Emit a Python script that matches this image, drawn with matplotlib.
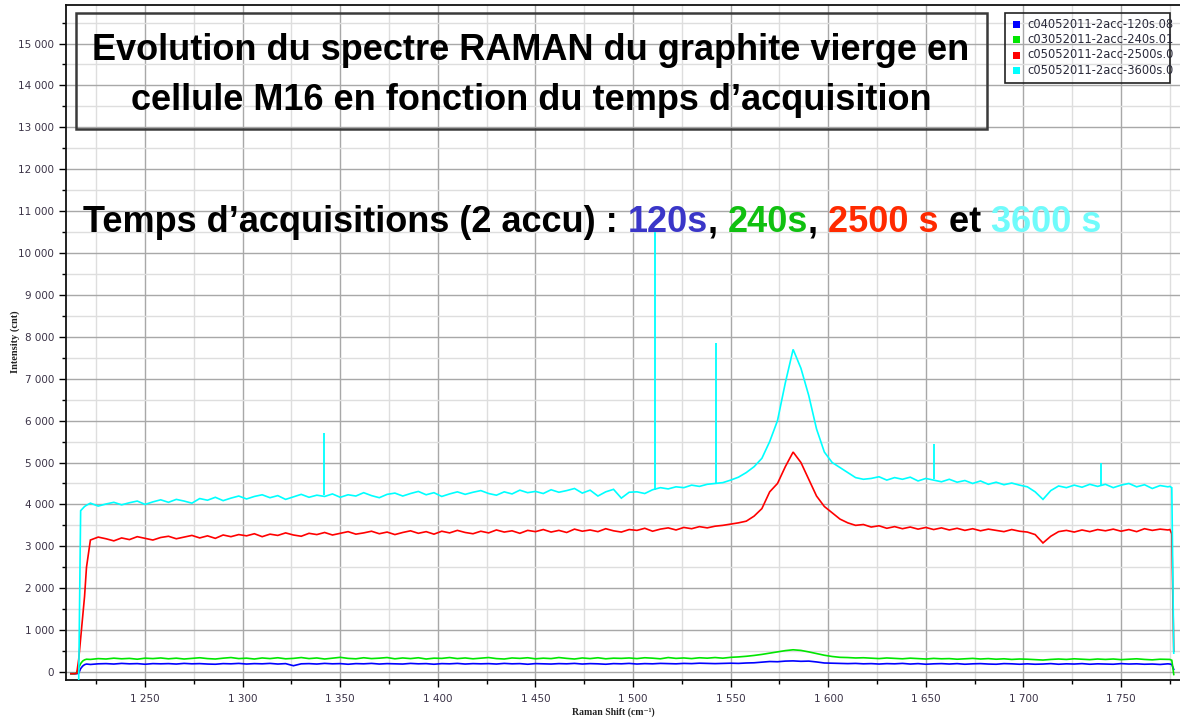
import numpy as np
import matplotlib
matplotlib.use("Agg")
import matplotlib.pyplot as plt
from matplotlib import font_manager
from matplotlib.ticker import MultipleLocator, FuncFormatter
from matplotlib.patches import Rectangle

# ---------------------------------------------------------------- data
# Raman shift sampling (cm-1): detector edge, main range, far edge
shift_lead = [1212, 1214, 1215, 1216, 1217, 1218, 1219, 1220]
shift_main = np.arange(1222, 1775, 4)          # 1222 ... 1774
shift_tail = [1775, 1776, 1777]

# 120 s acquisition (counts)
blue_lead = [-40, -40, -40, -30, 80, 140, 175, 190]
blue_main = [
    180, 195, 200, 190, 205, 195, 200, 185, 200, 195,
    200, 190, 205, 195, 200, 190, 185, 200, 195, 205,
    190, 200, 195, 205, 190, 200, 150, 195, 200, 190,
    205, 195, 200, 185, 200, 195, 205, 190, 200, 195,
    190, 205, 195, 200, 185, 200, 195, 205, 190, 200,
    195, 200, 190, 205, 195, 200, 185, 200, 195, 190,
    200, 195, 205, 190, 200, 195, 185, 200, 195, 205,
    190, 200, 195, 205, 200, 195, 205, 200, 210, 205,
    200, 205, 210, 205, 215, 220, 235, 250, 245, 260,
    265, 255, 260, 240, 215, 210, 205, 200, 205, 195,
    200, 190, 200, 195, 205, 190, 200, 185, 195, 200,
    190, 200, 185, 195, 200, 190, 185, 200, 195, 185,
    195, 185, 190, 200, 185, 195, 190, 200, 185, 195,
    190, 185, 200, 190, 195, 185, 190, 180, 195,
]
blue_tail = [190, 180, 60]

# 240 s acquisition (counts)
green_lead = [-40, -40, -20, 100, 200, 260, 290, 305]
green_main = [
    300, 320, 310, 330, 315, 325, 305, 330, 320, 335,
    315, 330, 310, 325, 340, 320, 310, 330, 345, 320,
    330, 310, 335, 320, 340, 315, 325, 345, 320, 335,
    310, 330, 350, 325, 315, 340, 320, 330, 345, 315,
    335, 320, 340, 310, 330, 325, 345, 320, 335, 315,
    330, 345, 320, 310, 335, 325, 340, 315, 330, 320,
    345, 325, 310, 335, 320, 340, 315, 330, 325, 335,
    320, 340, 330, 315, 345, 325, 335, 320, 340, 330,
    345, 330, 350, 360, 375, 395, 420, 450, 480, 510,
    530, 515, 480, 440, 400, 370, 350, 345, 335, 340,
    330, 320, 335, 325, 315, 330, 320, 310, 325, 315,
    320, 305, 315, 325, 310, 320, 305, 315, 300, 310,
    305, 295, 285, 300, 310, 300, 315, 305, 295, 310,
    300, 310, 295, 305, 315, 300, 290, 305, 300,
]
green_tail = [300, 280, -60]

# 2500 s acquisition (counts)
red_lead = [-40, -40, -30, 300, 800, 1300, 1800, 2500]
red_main = [
    3150, 3220, 3180, 3130, 3200, 3160, 3230, 3190, 3150, 3210,
    3240, 3180, 3220, 3260, 3200, 3250, 3190, 3270, 3230, 3280,
    3250, 3300, 3230, 3290, 3260, 3320, 3270, 3240, 3310, 3280,
    3330, 3270, 3310, 3350, 3290, 3320, 3360, 3300, 3340, 3280,
    3330, 3370, 3310, 3350, 3290, 3360, 3320, 3380, 3330, 3300,
    3360, 3320, 3390, 3340, 3370, 3310, 3380, 3350, 3400, 3340,
    3380, 3330, 3410, 3360, 3390, 3350, 3420, 3370, 3340, 3400,
    3380, 3430, 3360, 3410, 3440, 3390, 3450, 3420, 3470, 3440,
    3480, 3500, 3530, 3560, 3600, 3720, 3900, 4300, 4500, 4900,
    5250, 5000, 4600, 4200, 3950, 3800, 3650, 3560, 3500, 3520,
    3460, 3490, 3430, 3470, 3420, 3460, 3410, 3450, 3400, 3440,
    3390, 3430, 3380, 3420, 3370, 3410, 3380, 3350, 3400, 3360,
    3340, 3280, 3080, 3240, 3350, 3380, 3340, 3390, 3350, 3400,
    3370, 3410, 3360, 3400, 3350, 3420, 3380, 3410, 3390,
]
red_tail = [3400, 3300, 500]

# 3600 s acquisition (counts)
cyan_lead = [-250, -250, -250, -250, 3850, 3900, 3950, 3980]
cyan_main = [
    4030, 3960, 4010, 4050, 3990, 4040, 4080, 4000, 4060, 4110,
    4050, 4120, 4080, 4030, 4140, 4100, 4170, 4090, 4150, 4200,
    4130, 4190, 4230, 4160, 4210, 4120, 4180, 4240, 4170, 4220,
    4190, 4250, 4170, 4230, 4200, 4280, 4210, 4160, 4240, 4270,
    4200, 4260, 4310, 4230, 4280, 4190, 4250, 4300, 4240, 4290,
    4330, 4260, 4220, 4300, 4250, 4340, 4280, 4310, 4260, 4350,
    4290, 4330, 4380, 4270, 4340, 4200, 4300, 4360, 4150, 4290,
    4300, 4260, 4350, 4400, 4370, 4420, 4400, 4460, 4430, 4480,
    4500, 4520, 4580, 4650, 4760, 4900, 5100, 5500, 6000, 6900,
    7700, 7250, 6600, 5800, 5250, 5000, 4880, 4760, 4640, 4600,
    4620, 4660, 4580, 4640, 4600, 4650, 4560, 4620, 4580, 4540,
    4600, 4530, 4570, 4500, 4560, 4480, 4530, 4470, 4510, 4460,
    4420, 4300, 4120, 4330, 4440, 4400, 4460, 4410, 4480, 4430,
    4480, 4400, 4460, 4500, 4420, 4470, 4380, 4450, 4420,
]
cyan_tail = [4430, 4400, 450]

# cosmic-ray spikes on the 3600 s spectrum
spike_shift = [1341.5, 1511.0, 1542.5, 1654.0, 1739.5]
spike_base = [4230, 4350, 4500, 4600, 4450]
spike_top = [5700, 10600, 7850, 5450, 5000]

series_names = [
    "c04052011-2acc-120s.08",
    "c03052011-2acc-240s.01",
    "c05052011-2acc-2500s.0",
    "c05052011-2acc-3600s.0",
]
series_colors = ["#0000ff", "#00e600", "#ff0000", "#00ffff"]

title_lines = [
    "Evolution du spectre RAMAN du graphite vierge en",
    "cellule M16 en fonction du temps d\u2019acquisition",
]
headline_parts = [
    "Temps d\u2019acquisitions (2 accu) : ", "120s", ", ", "240s", ", ",
    "2500 s", " et ", "3600 s",
]
headline_colors = [
    "#000000", "#3a36c8", "#000000", "#10c010", "#000000",
    "#ff2a00", "#000000", "#70fbfb",
]

x_label = "Raman Shift (cm\u207b\u00b9)"
y_label = "Intensity (cnt)"

# ---------------------------------------------------------------- fonts
installed = {f.name for f in font_manager.fontManager.ttflist}
narrow = "Liberation Sans Narrow" in installed
head_family = "Liberation Sans Narrow" if narrow else "Liberation Sans"
head_size = 31.5 if narrow else 26

# ---------------------------------------------------------------- figure
W, H = 1180, 718
fig = plt.figure(figsize=(W / 100, H / 100), dpi=100)
fig.patch.set_facecolor("white")

left, bottom, top = 66, 680, 5
ax = fig.add_axes([left / W, 1 - bottom / H, 1 - left / W, (bottom - top) / H])

mains = [blue_main, green_main, red_main, cyan_main]
leads = [blue_lead, green_lead, red_lead, cyan_lead]
tails = [blue_tail, green_tail, red_tail, cyan_tail]
x_all = np.concatenate([shift_lead, shift_main, shift_tail])
for i, (lead, main, tail) in enumerate(zip(leads, mains, tails)):
    y_all = np.concatenate([lead, main, tail])
    ax.plot(x_all, y_all, color=series_colors[i], lw=1.2, zorder=3 + i,
            solid_joinstyle="miter")
ax.vlines(spike_shift, spike_base, spike_top, color=series_colors[3],
          lw=1.3, zorder=7)

ax.set_xlim(1209.5, 1780.2)
ax.set_ylim(-191, 15920)

ax.xaxis.set_major_locator(MultipleLocator(50))
ax.xaxis.set_minor_locator(MultipleLocator(25))
ax.yaxis.set_major_locator(MultipleLocator(1000))
ax.yaxis.set_minor_locator(MultipleLocator(500))

fmt = FuncFormatter(lambda v, p: f"{int(round(v)):,}".replace(",", " "))
ax.xaxis.set_major_formatter(fmt)
ax.yaxis.set_major_formatter(fmt)

ax.grid(which="major", color="#a8a8a8", lw=1.0)
ax.grid(which="minor", color="#dedede", lw=1.0)
ax.set_axisbelow(True)

ax.tick_params(which="major", direction="out", length=5, width=1.0,
               color="black", labelcolor="#3b3347", labelsize=7.5, pad=3.5)
ax.tick_params(which="minor", direction="out", length=3, width=1.0,
               color="black")
ax.tick_params(axis="x", which="major", pad=5)
for side in ("left", "bottom", "top"):
    ax.spines[side].set_color("#111111")
    ax.spines[side].set_linewidth(1.3)
ax.spines["right"].set_visible(False)

# ---------------------------------------------------------------- overlay in pixel coordinates
ov = fig.add_axes([0, 0, 1, 1], zorder=10)
ov.set_xlim(0, W)
ov.set_ylim(H, 0)
ov.axis("off")
ov.patch.set_alpha(0)

# title box
ov.add_patch(Rectangle((76, 13), 911, 116, fill=False, ec="#3a3a3a", lw=1.8))
for line, yb in zip(title_lines, (60, 110)):
    ov.text(531, yb, line, ha="center", va="baseline", fontsize=26,
            fontweight="bold", family="Liberation Sans", color="black")

# multi-coloured headline
renderer = fig.canvas.get_renderer()
probe_kw = dict(fontsize=head_size, fontweight="bold", family=head_family)


def text_width(s):
    t = ov.text(0, 0, s + "x", **probe_kw)
    u = ov.text(0, 0, "x", **probe_kw)
    w = t.get_window_extent(renderer).width - u.get_window_extent(renderer).width
    t.remove()
    u.remove()
    return w


x0, yb = 83, 232
prefix = ""
for part, col in zip(headline_parts, headline_colors):
    xp = x0 + text_width(prefix) if prefix else x0
    ov.text(xp, yb, part, ha="left", va="baseline", color=col, **probe_kw)
    prefix += part

# legend block
ov.add_patch(Rectangle((1005, 13), 165, 70, fill=False, ec="#222222", lw=1.2))
for name, col, yc in zip(series_names, series_colors, (24, 39.5, 55, 70.5)):
    ov.add_patch(Rectangle((1013, yc - 3.5), 7, 7, fc=col, ec="none"))
    ov.text(1027, yc, name, ha="left", va="center", fontsize=8.3,
            color="#2a2a3a", family="DejaVu Sans")

# axis titles
ov.text(15, 342, y_label, rotation=90, ha="center", va="center", fontsize=7.5,
        fontweight="bold", family=["Liberation Serif", "DejaVu Serif"],
        color="#222222")
ov.text(613, 712, x_label, ha="center", va="center", fontsize=7,
        fontweight="bold", family=["Liberation Serif", "DejaVu Serif"],
        color="#222222")

fig.savefig("out.png", dpi=100, facecolor="white")
